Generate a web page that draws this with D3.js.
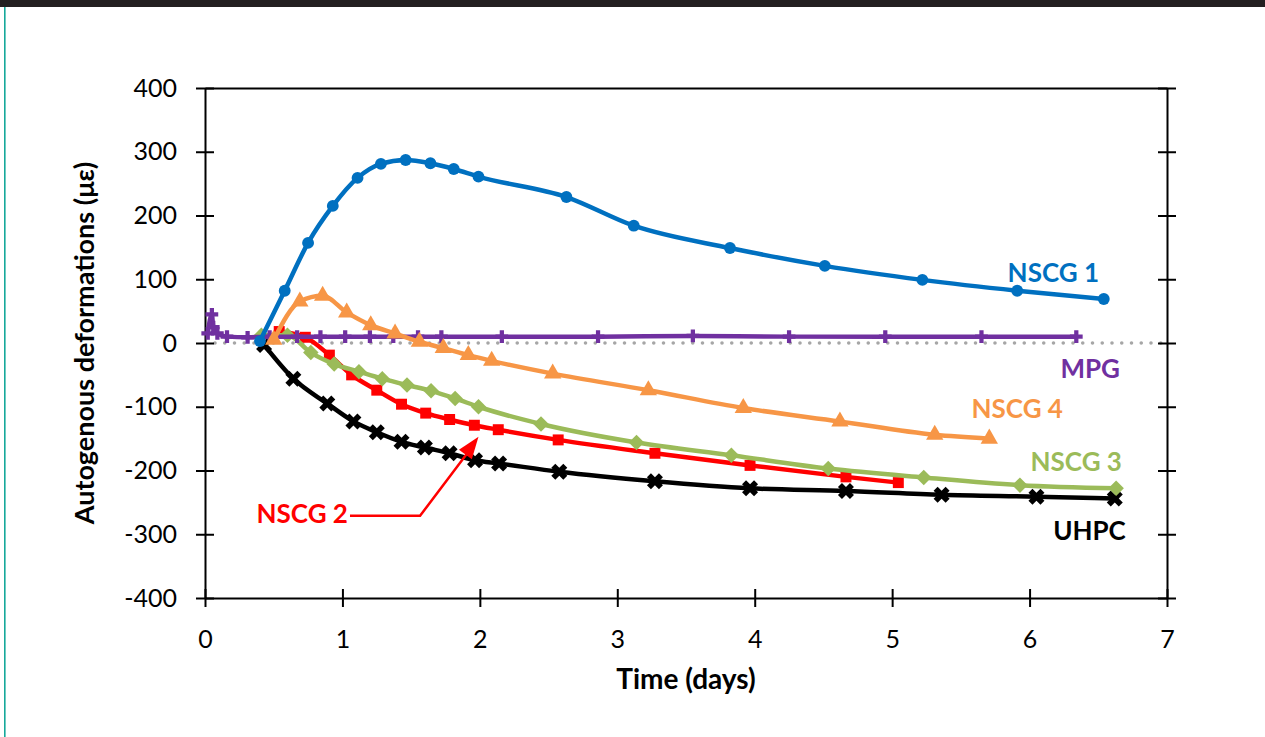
<!DOCTYPE html>
<html>
<head>
<meta charset="utf-8">
<script src="https://cdn.jsdelivr.net/npm/d3@7"></script>
<style>
  body { margin: 0; background: #fff; }
  svg text { font-family: Lato, 'Open Sans', sans-serif; }
</style>
</head>
<body>
<div id="chart"></div>
<script>
// Data: [time (days), deformation (µε)]
var nscg1 = [[0.40, 3], [0.58, 82], [0.75, 157], [0.93, 215], [1.11, 259], [1.28, 281], [1.46, 287], [1.64, 282],
  [1.81, 273], [1.99, 261], [2.63, 229], [3.12, 184], [3.82, 149], [4.51, 121], [5.22, 99], [5.91, 82], [6.54, 69]]
var nscg2 = [[0.54, 18], [0.73, 9], [0.905, -19], [1.067, -50], [1.25, -74], [1.43, -96], [1.606, -110], [1.78, -120],
  [1.96, -129], [2.134, -136], [2.57, -152], [3.274, -173], [3.966, -192], [4.664, -210], [5.045, -219]]
var nscg3 = [[0.41, 12], [0.60, 12], [0.77, -15], [0.94, -33], [1.12, -45], [1.29, -56], [1.47, -66], [1.645, -75],
  [1.82, -87], [1.99, -100], [2.445, -127], [3.14, -156], [3.83, -176], [4.535, -197], [5.23, -211], [5.93, -223], [6.63, -228]]
var nscg4 = [[0.50, 5], [0.69, 65], [0.856, 74], [1.031, 48], [1.206, 28], [1.383, 15], [1.56, 2], [1.734, -8],
  [1.916, -19], [2.086, -28], [2.53, -48], [3.226, -74], [3.917, -102], [4.62, -123], [5.31, -144], [5.707, -150]]
var uhpc = [[0.43, -3], [0.643, -56], [0.89, -95], [1.08, -123], [1.25, -140], [1.43, -155], [1.60, -164], [1.78, -173],
  [1.965, -184], [2.14, -189], [2.578, -202], [3.274, -217], [3.966, -228], [4.664, -232], [5.36, -238], [6.05, -241], [6.62, -244]]
var mpg = [[0.02, 15], [0.05, 45], [0.06, 25], [0.09, 15], [0.16, 10], [0.31, 9], [0.47, 10], [0.67, 10], [0.84, 10],
  [1.02, 10], [1.20, 10], [1.37, 10], [1.55, 10], [1.72, 10], [2.16, 10], [2.86, 10], [3.55, 11], [4.25, 10],
  [4.95, 10], [5.65, 10], [6.34, 10]]

var xTicks = [0, 1, 2, 3, 4, 5, 6, 7]
var yTicks = [-400, -300, -200, -100, 0, 100, 200, 300, 400]

// labels placed next to the curves: [text, x end, y baseline]
var seriesLabels = [
  ['NSCG 1', 6.505, 96, '#0070C0'],
  ['MPG', 6.658, -55, '#7030A0'],
  ['NSCG 4', 6.243, -118, '#F79646'],
  ['NSCG 3', 6.672, -201, '#9BBB59'],
  ['UHPC', 6.70, -309, '#000000'],
  ['NSCG 2', 1.04, -282, '#FF0000']
]
// arrow from NSCG 2 label to its curve
var arrowPath = [[1.055, -271], [1.565, -271], [1.99, -147]]

var W = 1265, H = 737
var margin = { left: 205, top: 88, right: W - 1167, bottom: H - 598 }

var svg = d3.select('#chart').append('svg')
  .attr('width', W)
  .attr('height', H)

// frame decoration
svg.append('rect').attr('x', 0).attr('y', 0).attr('width', W).attr('height', 7).attr('fill', '#231f20')
svg.append('rect').attr('x', 4).attr('y', 7).attr('width', 1.6).attr('height', H - 7).attr('fill', '#16a89a')

var x = d3.scaleLinear().domain([0, 7]).range([margin.left, W - margin.right])
var y = d3.scaleLinear().domain([-400, 400]).range([H - margin.bottom, margin.top])

// zero reference line
svg.append('line')
  .attr('x1', x(0) + 10).attr('x2', x(7))
  .attr('y1', y(0)).attr('y2', y(0))
  .attr('stroke', '#a6a6a6')
  .attr('stroke-width', 3.6)
  .attr('stroke-linecap', 'round')
  .attr('stroke-dasharray', '0 9.75')

// axes
function crossTicks(g, horizontal) {
  g.selectAll('.tick line')
    .attr(horizontal ? 'y1' : 'x1', -9)
    .attr(horizontal ? 'y2' : 'x2', 9)
    .attr('stroke-width', 2)
  g.select('.domain').attr('stroke-width', 2)
}

var leftAxis = svg.append('g')
  .attr('transform', `translate(${x(0)},0)`)
  .call(d3.axisLeft(y).tickValues(yTicks).tickSize(9).tickSizeOuter(0).tickPadding(19).tickFormat(d => String(d)))
leftAxis.call(crossTicks, false)
leftAxis.selectAll('text').attr('font-size', 25).attr('fill', '#000')

var rightAxis = svg.append('g')
  .attr('transform', `translate(${x(7)},0)`)
  .call(d3.axisRight(y).tickValues(yTicks).tickSize(9).tickSizeOuter(0).tickFormat(''))
rightAxis.call(crossTicks, false)

var bottomAxis = svg.append('g')
  .attr('transform', `translate(0,${y(-400)})`)
  .call(d3.axisBottom(x).tickValues(xTicks).tickSize(9).tickSizeOuter(0).tickPadding(23).tickFormat(d => String(d)))
bottomAxis.call(crossTicks, true)
bottomAxis.selectAll('text').attr('font-size', 25).attr('fill', '#000')

var topAxis = svg.append('g')
  .attr('transform', `translate(0,${y(400)})`)
  .call(d3.axisTop(x).tickValues([]).tickSizeOuter(0))
topAxis.select('.domain').attr('stroke-width', 2)

// axis titles
svg.append('text')
  .attr('x', (x(0) + x(7)) / 2)
  .attr('y', 689)
  .attr('text-anchor', 'middle')
  .attr('font-size', 28)
  .attr('font-weight', 'bold')
  .text('Time (days)')

svg.append('text')
  .attr('transform', `translate(94,${(y(400) + y(-400)) / 2}) rotate(-90)`)
  .attr('text-anchor', 'middle')
  .attr('font-size', 27)
  .attr('font-weight', 'bold')
  .text('Autogenous deformations (με)')

// series
var line = d3.line()
  .x(d => x(d[0]))
  .y(d => y(d[1]))
  .curve(d3.curveMonotoneX)

var diamond = { draw: function (ctx, size) {
  var r = Math.sqrt(size / 2)
  ctx.moveTo(0, -r); ctx.lineTo(r, 0); ctx.lineTo(0, r); ctx.lineTo(-r, 0); ctx.closePath()
} }

var series = [
  { data: uhpc, color: '#000000', symbol: d3.symbolCross, size: 160, rotate: 45 },
  { data: nscg2, color: '#FF0000', symbol: d3.symbolSquare, size: 120, rotate: 0 },
  { data: nscg3, color: '#9BBB59', symbol: diamond, size: 120, rotate: 0 },
  { data: mpg, color: '#7030A0', symbol: d3.symbolCross, size: 90, rotate: 0 },
  { data: nscg4, color: '#F79646', symbol: d3.symbolTriangle, size: 130, rotate: 0 },
  { data: nscg1, color: '#0070C0', symbol: d3.symbolCircle, size: 110, rotate: 0 }
]

series.forEach(function (s) {
  var g = svg.append('g')
  g.append('path')
    .attr('d', line(s.data))
    .attr('fill', 'none')
    .attr('stroke', s.color)
    .attr('stroke-width', 4.5)
  g.selectAll('path.marker')
    .data(s.data)
    .enter()
    .append('path')
    .attr('class', 'marker')
    .attr('d', d3.symbol().type(s.symbol).size(s.size))
    .attr('transform', d => `translate(${x(d[0])},${y(d[1])}) rotate(${s.rotate})`)
    .attr('fill', s.color)
})

// annotations
svg.append('path')
  .attr('d', d3.line().x(d => x(d[0])).y(d => y(d[1]))(arrowPath.slice(0, 2)) + 'L' + x(1.94) + ',' + y(-164))
  .attr('fill', 'none')
  .attr('stroke', '#FF0000')
  .attr('stroke-width', 2.5)

var tip = arrowPath[2], base = arrowPath[1]
var ang = Math.atan2(y(tip[1]) - y(base[1]), x(tip[0]) - x(base[0])) * 180 / Math.PI
svg.append('path')
  .attr('d', 'M0,0 L-22,-8 L-22,8 Z')
  .attr('transform', `translate(${x(tip[0])},${y(tip[1])}) rotate(${ang})`)
  .attr('fill', '#FF0000')

svg.selectAll('text.series-label')
  .data(seriesLabels)
  .enter()
  .append('text')
  .attr('class', 'series-label')
  .attr('x', d => x(d[1]))
  .attr('y', d => y(d[2]))
  .attr('text-anchor', 'end')
  .attr('font-size', 26)
  .attr('font-weight', 'bold')
  .attr('fill', d => d[3])
  .text(d => d[0])
</script>
</body>
</html>
